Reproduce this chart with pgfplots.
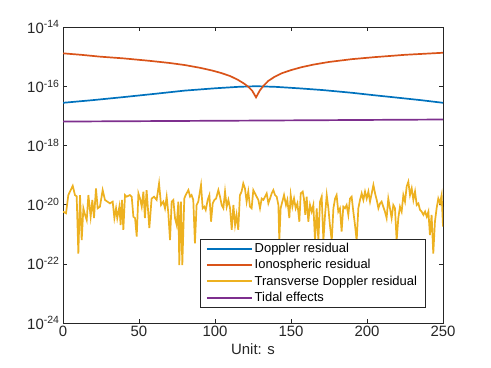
\documentclass[border=0pt]{standalone}
\usepackage{pgfplots}
\pgfplotsset{compat=1.18}
\usepackage{fontspec}
\setmainfont{Liberation Sans}

\definecolor{mblue}{rgb}{0,0.447,0.741}
\definecolor{morange}{rgb}{0.85,0.325,0.098}
\definecolor{myellow}{rgb}{0.929,0.694,0.125}
\definecolor{mpurple}{rgb}{0.494,0.184,0.556}
\definecolor{axgray}{gray}{0.15}

\begin{document}
\begin{tikzpicture}
\begin{axis}[
    scale only axis,
    width=380bp, height=296bp,
    xmin=0, xmax=250,
    ymode=log, ymin=1e-24, ymax=1e-14,
    xtick={0,50,100,150,200,250},
    ytick={1e-24,1e-22,1e-20,1e-18,1e-16,1e-14},
    yticklabels={10\textsuperscript{-24},10\textsuperscript{-22},10\textsuperscript{-20},10\textsuperscript{-18},10\textsuperscript{-16},10\textsuperscript{-14}},
    yminorticks=false,
    tick align=inside,
    major tick length=4bp,
    axis line style={axgray, line width=0.6bp},
    every tick/.style={axgray, line width=0.6bp},
    tick label style={font=\fontsize{15}{18}\selectfont, text=axgray},
    /pgf/number format/assume math mode=true,
    xlabel={Unit: s},
    xlabel style={font=\fontsize{15}{18}\selectfont, text=axgray},
    legend style={at={(0.953,0.053)}, anchor=south east,
        font=\fontsize{13}{14}\selectfont, draw=axgray,
        inner xsep=6bp, inner ysep=2bp, row sep=1.5bp},
    legend cell align=left,
    legend image code/.code={\draw[#1, line width=2bp] (0bp,0bp) -- (45bp,0bp);},
]
\addplot[mblue, line width=1.7bp] coordinates {
(0,2.75e-17) (20,3.4e-17) (40,4.3e-17) (60,5.5e-17) (80,7.1e-17) (100,8.5e-17)
(115,9.5e-17) (127,1.0e-16) (140,9.5e-17) (155,8.5e-17) (171,7.4e-17) (190,6.0e-17)
(204,5.0e-17) (220,4.1e-17) (235,3.4e-17) (250,2.75e-17)
};
\addlegendentry{Doppler residual}
\addplot[morange, line width=1.7bp] coordinates {
(0,1.29e-15) (12,1.15e-15) (24,1.0e-15) (40,8.7e-16) (57,7.2e-16) (70,6.1e-16)
(80,5.2e-16) (90,4.2e-16) (98,3.4e-16) (104,2.8e-16) (110,2.2e-16) (115,1.65e-16)
(119,1.24e-16) (122,9.5e-17) (124.5,7e-17) (127,4.2e-17) (129.5,7.2e-17) (132,1.05e-16)
(135,1.5e-16) (139,2.05e-16) (144,2.75e-16) (150,3.5e-16) (157,4.4e-16) (165,5.4e-16)
(175,6.6e-16) (190,8.2e-16) (205,9.6e-16) (225,1.15e-15) (250,1.35e-15)
};
\addlegendentry{Ionospheric residual}
\addplot[myellow, line width=1.7bp] coordinates {
(0,5.8e-21) (2,5.1e-21) (3.5,2.1e-20) (6.4,4.3e-20) (7.9,2.1e-20) (9,1.9e-20)
(10.1,2.2e-22) (11.2,2.1e-20) (12.3,6.3e-22) (13.4,7.5e-21) (14.5,4.5e-21) (15.6,3.0e-21)
(16.7,2.1e-20) (18.2,3.9e-21) (19.3,1.44e-20) (20.4,3.5e-21) (21.7,3.55e-20) (22.8,7.5e-21)
(24.3,8.5e-21) (26.1,3.1e-20) (27.6,1.44e-20) (29.2,1.26e-20) (30.9,1.1e-20) (32.7,1.26e-20)
(33.8,3.5e-21) (34.9,7.5e-21) (35.7,3.5e-21) (37.1,8.5e-21) (37.9,2.05e-21) (38.8,1.44e-20)
(39.7,1.4e-21) (40.8,2.1e-20) (41.9,1.85e-20) (44,2.1e-20) (45.2,1.85e-20) (46.3,3.9e-21)
(47.4,3.5e-21) (48.5,8.3e-22) (49.6,2.4e-20) (50.7,1.6e-20) (51.8,8.5e-21) (52.9,2.75e-20)
(53.9,3.5e-21) (55,3.1e-20) (56.8,1.6e-21) (58.3,1.6e-20) (59.9,1.85e-20) (61.6,1.44e-20)
(63.2,5.2e-20) (64.5,9.7e-21) (66.0,1.26e-20) (67.1,7.5e-21) (68.2,1.85e-20) (69.3,5.1e-21)
(70.4,6.3e-22) (71.5,1.26e-20) (72.6,1.44e-20) (73.7,3.5e-21) (74.8,2.05e-21) (75.9,1.26e-20)
(76.5,9.1e-23) (77.6,1.26e-20) (78.5,9.1e-23) (79.8,1.6e-20) (80.7,2.1e-20) (82.5,3.1e-20)
(83.6,1.85e-20) (84.6,2.1e-20) (85.7,1.44e-20) (86.8,4.9e-22) (87.9,9.7e-21) (89.0,1.26e-20)
(90.8,4.6e-20) (91.9,7.5e-21) (93.0,8.5e-21) (93.9,6.6e-21) (95.2,1.44e-20) (96.3,2.1e-20)
(97.4,2.65e-21) (98.5,1.1e-20) (99.6,1.44e-20) (100.7,1.6e-20) (102.2,3.1e-20) (103.3,1.85e-20)
(104.4,9.7e-21) (105.5,7.5e-21) (106.6,2.75e-20) (107.7,8.5e-21) (108.8,1.44e-20) (109.9,7.5e-21)
(111.0,1.4e-21) (112.1,9.7e-21) (113.2,2.05e-21) (114.2,4.5e-21) (115.3,1.4e-21) (116.4,2.1e-20)
(117.5,2.75e-20) (118.6,5.2e-20) (119.7,3.55e-20) (120.8,1.26e-20) (121.9,2.75e-20) (123.0,8.5e-21)
(124.1,7.5e-21) (125.2,3.1e-20) (126.3,2.4e-20) (127.4,1.85e-20) (128.5,1.44e-20) (129.6,7.5e-21)
(130.7,1.6e-20) (131.8,1.44e-20) (132.9,1.85e-20) (134.0,2.4e-20) (135.1,1.1e-20) (136.2,1.6e-20)
(137.3,2.4e-20) (138.4,3.1e-20) (139.5,2.1e-20) (140.6,1.85e-20) (141.7,9.7e-21) (142.3,6e-22)
(143.2,7.5e-21) (144.3,1.26e-20) (145.4,2.1e-20) (146.7,9.7e-21) (147.6,1.44e-20) (148.9,3.5e-21)
(149.8,2.1e-20) (150.9,8.5e-21) (152.0,1.6e-20) (153.1,7.5e-21) (154.2,1.1e-20) (155.5,2.65e-21)
(156.4,2.4e-20) (157.7,2.75e-20) (158.5,1.6e-20) (159.4,4.5e-21) (160.3,1.85e-20) (161.4,2.65e-21)
(162.5,9.7e-21) (163.6,5.8e-21) (164.7,9.7e-21) (165.8,6e-22) (166.9,7.5e-21) (168.0,6e-22)
(169.1,1.26e-20) (170.2,1.85e-20) (171.3,6e-22) (172.4,4.5e-21) (173.5,2.1e-20) (174.6,7.5e-21)
(175.6,2.05e-21) (176.8,6e-22) (177.9,7.5e-21) (179.0,1.6e-20) (180.0,2.1e-20) (181.1,5.8e-21)
(182.2,7.5e-21) (183.3,1.22e-21) (184.4,8.5e-21) (185.5,7.5e-21) (186.6,9.7e-21) (187.7,4.5e-21)
(188.8,1.6e-20) (189.9,1.85e-20) (191.0,5.8e-21) (192.1,2.05e-21) (193.2,6e-22) (194.3,7.5e-21)
(195.4,1.44e-20) (196.5,2.4e-20) (197.6,1.44e-20) (198.7,2.75e-20) (199.8,1.6e-20) (200.9,2.75e-20)
(202.0,1.26e-20) (203.1,2.4e-20) (204.2,4.6e-20) (205.3,2.4e-20) (206.4,1.44e-20) (207.5,7.5e-21)
(208.6,1.1e-20) (209.6,1.26e-20) (210.7,8.5e-21) (211.8,5.8e-21) (212.9,3.5e-21) (214.0,1.6e-20)
(215.1,7.5e-21) (216.2,3.5e-21) (217.3,9.7e-21) (218.4,7.5e-21) (219.5,6e-22) (220.6,3.5e-21)
(221.7,8.5e-21) (222.8,5.8e-21) (223.9,2.1e-20) (225.0,1.26e-20) (226.1,4.1e-20) (227.2,5.96e-20)
(228.3,2.1e-20) (229.4,3.55e-20) (230.5,1.44e-20) (231.6,2.75e-20) (232.7,9.7e-21) (233.8,1.1e-20)
(234.9,6.6e-21) (236.0,5.8e-21) (237.1,4.5e-21) (238.2,5.8e-21) (239.3,3.9e-21) (240.4,5.8e-21)
(241.4,9.3e-22) (242.5,4.5e-21) (243.6,2.2e-22) (244.7,2.65e-21) (245.8,7.5e-21) (246.9,1.6e-20)
(248.0,1.1e-20) (249.1,2.1e-20) (250,1.8e-21)
};
\addlegendentry{Transverse Doppler residual}
\addplot[mpurple, line width=1.7bp] coordinates {
(0,6.4e-18) (125,6.9e-18) (250,7.5e-18)
};
\addlegendentry{Tidal effects}
\end{axis}
\path (current axis.south west) ++(-63bp,-45bp) rectangle ([shift={(48bp,27bp)}]current axis.north east);
\end{tikzpicture}
\end{document}
